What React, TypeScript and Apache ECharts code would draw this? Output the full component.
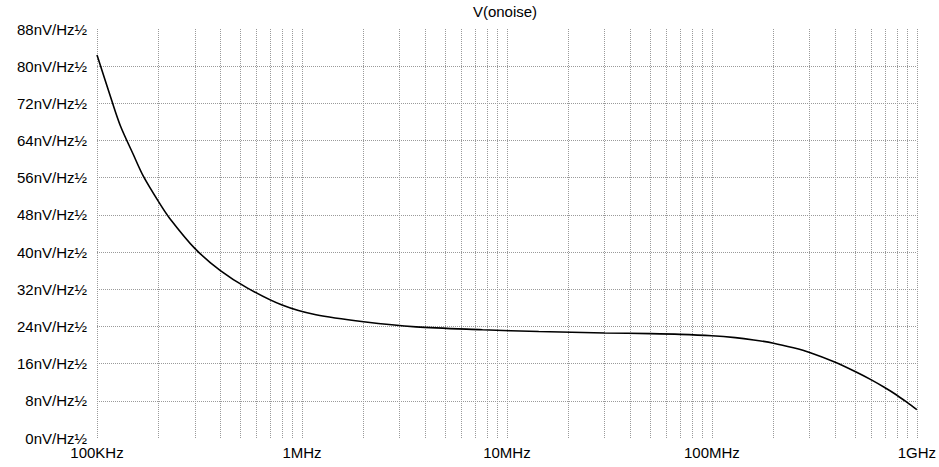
import React, { useEffect, useRef } from "react";
import * as echarts from "echarts";

const freqs = [1e5, 1.18e5, 1.3e5, 1.5e5, 1.68e5, 2e5, 2.26e5, 3e5, 4e5, 5.4e5, 8e5, 1.17e6, 2e6, 3.6e6, 7.6e6, 1.43e7, 3e7, 5e7, 7e7, 1e8, 1.3e8, 1.6e8, 2e8, 2.5e8, 3e8, 4e8, 5e8, 6e8, 7e8, 8e8, 9e8, 1e9];
const noise = [82.4, 72.6, 67.2, 61.1, 56.4, 50.8, 47.3, 40.8, 36.0, 32.3, 28.6, 26.5, 25.0, 23.9, 23.3, 22.9, 22.6, 22.45, 22.3, 22.0, 21.6, 21.1, 20.4, 19.4, 18.4, 16.3, 14.3, 12.5, 10.8, 9.2, 7.6, 6.1];

const xTickLabels: Record<string, string> = {
  "100000": "100KHz",
  "1000000": "1MHz",
  "10000000": "10MHz",
  "100000000": "100MHz",
  "1000000000": "1GHz",
};
const decades = [1e5, 1e6, 1e7, 1e8];
const mantissas = [1, 2, 3, 4, 5, 6, 7, 8, 9];
const title = "V(onoise)";
const yUnit = "nV/Hz½";

export default function App() {
  const ref = useRef<HTMLDivElement>(null);
  useEffect(() => {
    if (!ref.current) return;
    const chart = echarts.init(ref.current, undefined, { renderer: "svg" });
    const gridFreqs: number[] = [];
    decades.forEach((d) => mantissas.forEach((m) => gridFreqs.push(m * d)));
    gridFreqs.push(1e9);
    const font = "Liberation Sans, Arial, sans-serif";
    chart.setOption({
      animation: false,
      backgroundColor: "#ffffff",
      grid: { left: 97, right: 20, top: 29, bottom: 29, containLabel: false },
      graphic: [
        {
          type: "text",
          x: 505,
          y: 11,
          style: { text: title, align: "center", verticalAlign: "middle", fontSize: 15, fontFamily: font, fill: "#000" },
        },
      ],
      xAxis: {
        type: "log",
        logBase: 10,
        min: 1e5,
        max: 1e9,
        axisLine: { show: false },
        axisTick: { show: false },
        splitLine: { show: false },
        minorTick: { show: false },
        axisLabel: {
          color: "#000",
          fontSize: 15,
          fontFamily: font,
          margin: 7,
          formatter: (v: number) => xTickLabels[String(Math.round(v))] ?? "",
        },
      },
      yAxis: {
        type: "value",
        min: 0,
        max: 88,
        interval: 8,
        axisLine: { show: false },
        axisTick: { show: false },
        splitLine: {
          show: true,
          showMinLine: false,
          showMaxLine: false,
          lineStyle: { color: "#9a9a9a", type: [1, 1], width: 1 },
        },
        axisLabel: {
          color: "#000",
          fontSize: 15,
          fontFamily: font,
          margin: 10,
          formatter: (v: number) => v + yUnit,
        },
      },
      series: [
        {
          type: "line",
          data: [],
          z: 1,
          silent: true,
          markLine: {
            silent: true,
            symbol: "none",
            label: { show: false },
            lineStyle: { color: "#9a9a9a", type: [1, 1], width: 1 },
            data: gridFreqs.map((f) => ({ xAxis: f })),
          },
        },
        {
          type: "line",
          z: 5,
          data: freqs.map((f, i) => [f, noise[i]]),
          smooth: 0.3,
          showSymbol: false,
          lineStyle: { color: "#000", width: 1.6 },
        },
      ],
    });
    return () => chart.dispose();
  }, []);
  return <div ref={ref} style={{ position: "fixed", left: 0, top: 0, width: 939, height: 467 }} />;
}
